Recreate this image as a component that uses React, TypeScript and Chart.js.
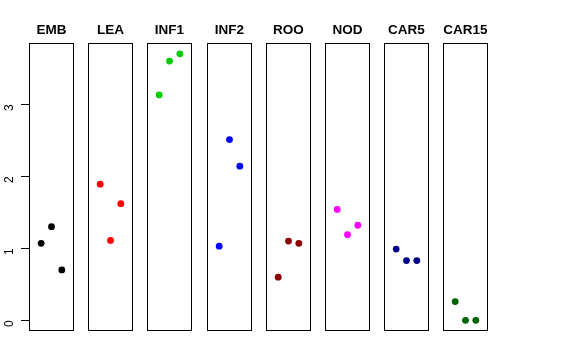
import React, { useEffect, useRef } from "react";
import { Chart, registerables } from "chart.js";

Chart.register(...registerables);

const tissues = ["EMB", "LEA", "INF1", "INF2", "ROO", "NOD", "CAR5", "CAR15"];
const emb = [1.07, 1.3, 0.7];
const lea = [1.89, 1.11, 1.62];
const inf1 = [3.13, 3.6, 3.7];
const inf2 = [1.03, 2.51, 2.14];
const roo = [0.6, 1.1, 1.07];
const nod = [1.54, 1.19, 1.32];
const car5 = [0.99, 0.83, 0.83];
const car15 = [0.26, 0.0, 0.0];
const seriesValues = [emb, lea, inf1, inf2, roo, nod, car5, car15];
const seriesColors = ["#000000", "#FF0000", "#00CD00", "#0000FF", "#8B0000", "#FF00FF", "#00008B", "#006400"];
const yTickValues = [0, 1, 2, 3];

const FONT = "'Liberation Sans', Arial, Helvetica, sans-serif";
const PANEL_LEFT0 = 29;
const PANEL_STEP = 59.17;
const PANEL_W = 45;
const SIDE = 7;

const boxPlugin = {
  id: "panelBox",
  afterDraw(chart: any) {
    const { ctx, chartArea: a } = chart;
    ctx.save();
    ctx.strokeStyle = "#000";
    ctx.lineWidth = 1;
    const l = Math.round(a.left) + 0.5;
    const t = Math.round(a.top) + 0.5;
    const r = Math.round(a.right) - 0.5;
    const b = Math.round(a.bottom) - 0.5;
    ctx.strokeRect(l, t, r - l, b - t);
    ctx.restore();
  },
};

function Panel({ index }: { index: number }) {
  const ref = useRef<HTMLCanvasElement>(null);
  const first = index === 0;
  const panelLeft = Math.round(PANEL_LEFT0 + index * PANEL_STEP);
  const canvasLeft = first ? 0 : panelLeft - SIDE;
  const canvasWidth = first ? PANEL_LEFT0 + PANEL_W + SIDE : PANEL_W + 2 * SIDE;

  useEffect(() => {
    const values = seriesValues[index];
    const chart = new Chart(ref.current as HTMLCanvasElement, {
      type: "scatter",
      data: {
        datasets: [
          {
            data: values.map((v, k) => ({ x: k + 1, y: v })),
            backgroundColor: seriesColors[index],
            borderColor: seriesColors[index],
            borderWidth: 0,
            pointRadius: 3.4,
          },
        ],
      },
      options: {
        animation: false,
        responsive: false,
        devicePixelRatio: 1,
        layout: { padding: { left: first ? 0 : SIDE, right: SIDE, top: 0, bottom: 29 } },
        plugins: {
          legend: { display: false },
          tooltip: { enabled: false },
          title: {
            display: true,
            text: tissues[index],
            color: "#000",
            fullSize: false,
            font: { size: 13.5, weight: "bold", family: FONT, lineHeight: 1.2 },
            padding: { top: 22, bottom: 5 },
          },
        },
        scales: {
          x: { type: "linear", min: -0.18, max: 4.18, display: false },
          y: first
            ? {
                type: "linear",
                position: "left",
                min: -0.148,
                max: 3.848,
                afterBuildTicks: (s: any) => {
                  s.ticks = yTickValues.map((v) => ({ value: v }));
                },
                afterFit: (s: any) => {
                  s.width = PANEL_LEFT0;
                },
                border: { display: false },
                grid: {
                  display: true,
                  drawOnChartArea: false,
                  drawTicks: true,
                  tickLength: 8,
                  color: "#000",
                  lineWidth: 1,
                },
                ticks: {
                  minRotation: 90,
                  maxRotation: 90,
                  color: "#000",
                  font: { size: 12, family: FONT },
                  padding: 11,
                },
              }
            : { type: "linear", min: -0.148, max: 3.848, display: false },
        },
      },
      plugins: [boxPlugin],
    } as any);
    return () => chart.destroy();
  }, [index]);

  return (
    <canvas
      ref={ref}
      width={canvasWidth}
      height={360}
      style={{ position: "absolute", left: canvasLeft, top: 0, width: canvasWidth, height: 360 }}
    />
  );
}

export default function App() {
  return (
    <div style={{ position: "fixed", left: 0, top: 0, width: 576, height: 360, background: "#fff" }}>
      {tissues.map((_, i) => (
        <Panel key={i} index={i} />
      ))}
    </div>
  );
}
